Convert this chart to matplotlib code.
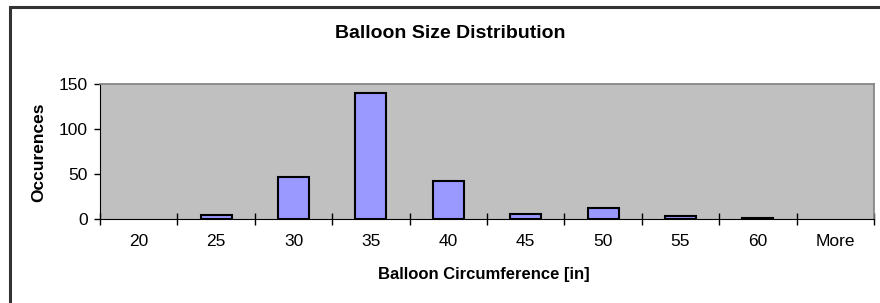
"""Histograma de tamanos de globos, al estilo de un grafico de Excel."""

import matplotlib.pyplot as plt
from matplotlib.patches import Rectangle

# Datos
categorias = ["20", "25", "30", "35", "40", "45", "50", "55", "60", "More"]
ocurrencias = [0, 4, 47, 140, 42, 6, 12, 3, 1, 0]

plt.rcParams["font.family"] = ["Liberation Sans", "DejaVu Sans"]

fig = plt.figure(figsize=(8.8, 3.03), dpi=100)
ax = fig.add_axes([100 / 880, 1 - 219 / 303, 774 / 880, 135 / 303])

# Marco exterior del grafico (se sale de la imagen por la derecha y abajo)
fig.patches.append(Rectangle((10 / 880, -0.1), 1.2, 1 - 7 / 303 + 0.1,
                             transform=fig.transFigure, fill=False,
                             edgecolor="#333333", linewidth=2.2))

# Las barras con valor cero no se dibujan en el original
posiciones = range(len(categorias))
bordes = [1.5 if v > 0 else 0 for v in ocurrencias]
ax.bar(posiciones, ocurrencias, width=0.4, color="#9999FF",
       edgecolor="black", linewidth=bordes, zorder=3)

ax.set_facecolor("#C0C0C0")
ax.set_xlim(-0.5, len(categorias) - 0.5)
ax.set_ylim(0, 150)
ax.set_yticks([0, 50, 100, 150])

# Etiquetas centradas en cada categoria, marcas entre categorias
ax.set_xticks(list(posiciones))
ax.set_xticklabels(categorias)
ax.tick_params(axis="x", length=0, pad=11, labelsize=12.5)
ax.set_xticks([p + 0.5 for p in range(-1, len(categorias))], minor=True)
ax.tick_params(axis="x", which="minor", length=8, direction="inout", width=1)
ax.tick_params(axis="y", length=4, width=1, direction="out", pad=5,
               labelsize=12.5)

for lado in ["top", "right"]:
    ax.spines[lado].set_color("#808080")
    ax.spines[lado].set_linewidth(1.2)
ax.spines["left"].set_color("black")
ax.spines["bottom"].set_color("black")

fig.text(450 / 880, 1 - 33 / 303, "Balloon Size Distribution",
         ha="center", va="center", fontsize=14, fontweight="bold")
fig.text(484 / 880, 1 - 274 / 303, "Balloon Circumference [in]",
         ha="center", va="center", fontsize=12, fontweight="bold")
fig.text(39 / 880, 1 - 152 / 303, "Occurences", rotation=90,
         ha="center", va="center", fontsize=12.5, fontweight="bold")

plt.savefig("out.png", dpi=100)
